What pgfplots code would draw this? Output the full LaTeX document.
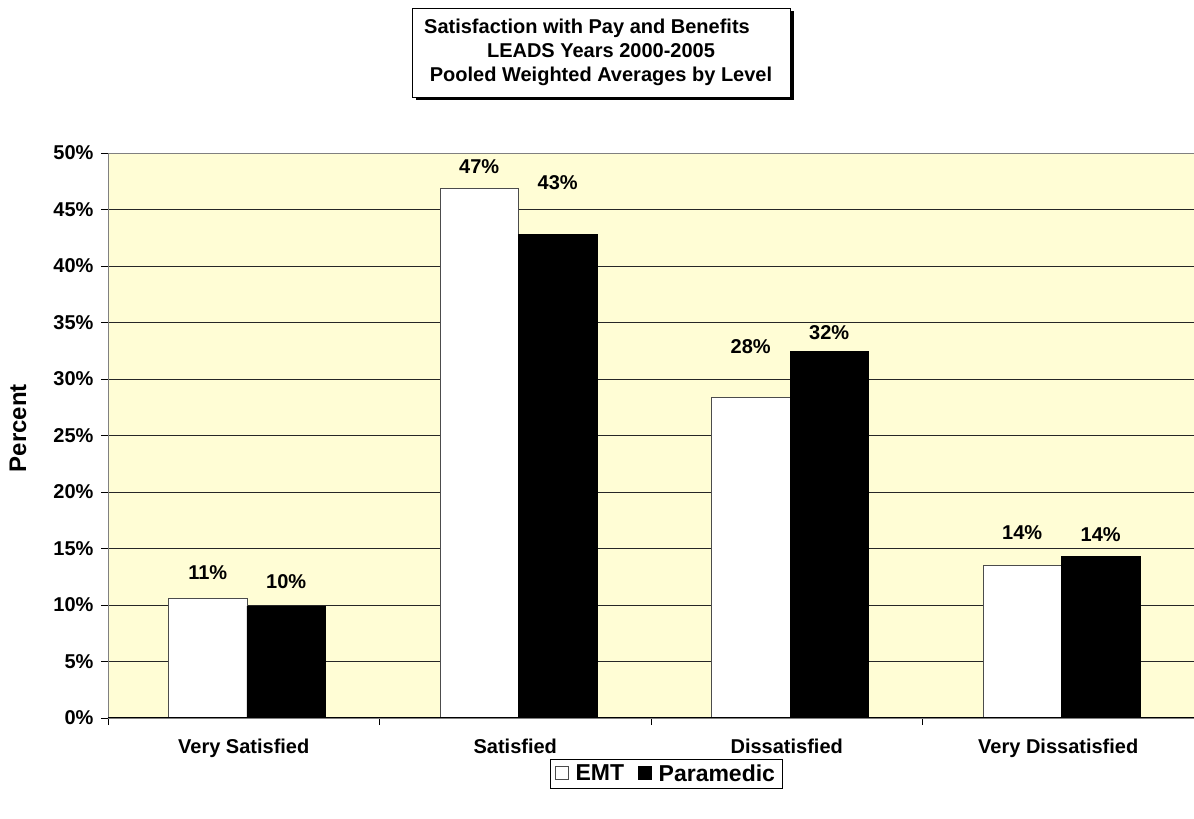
\documentclass[border=0pt]{standalone}
\usepackage{fontspec}
\setmainfont{Liberation Sans}
\usepackage{pgfplots}
\pgfplotsset{compat=1.18}
\usetikzlibrary{shadows}
\definecolor{bgyellow}{HTML}{FFFDD5}
\newcommand{\lbl}{\fontsize{20}{24}\selectfont\bfseries}
\begin{document}
\begin{tikzpicture}[x=1pt,y=1pt]
\useasboundingbox (-108,-101) rectangle (1086,718);
\begin{axis}[
  at={(0,0)}, anchor=south west,
  scale only axis, width=1086pt, height=565pt,
  xmin=-0.5, xmax=3.5, ymin=0, ymax=50,
  axis background/.style={fill=bgyellow},
  axis line style={draw=gray},
  tick pos=left,
  xtick={-0.5,0.5,1.5,2.5,3.5},
  xticklabels={},
  extra x ticks={0,1,2,3},
  extra x tick labels={Very Satisfied,Satisfied,Dissatisfied,Very Dissatisfied},
  extra x tick style={major tick length=0pt, xticklabel style={yshift=-17pt}},
  ytick={0,5,10,15,20,25,30,35,40,45,50},
  yticklabels={0\%,5\%,10\%,15\%,20\%,25\%,30\%,35\%,40\%,45\%,50\%},
  ymajorgrids,
  major grid style={black!85, line width=0.8pt},
  tick align=outside,
  major tick length=7pt,
  tick style={black, line width=0.8pt},
  ticklabel style={font=\lbl},
  yticklabel style={xshift=-4pt},
  ylabel={Percent},
  ylabel style={font=\fontsize{24}{28}\selectfont\bfseries, at={(axis description cs:-0.083,0.513)}, anchor=center},
  legend style={at={(0.5138,-0.072)}, anchor=north, legend columns=2, draw=black, line width=0.8pt,
    font=\fontsize{23}{27}\selectfont\bfseries, inner xsep=5pt, inner ysep=3.5pt,
    /tikz/every odd column/.append style={column sep=5pt},
    /tikz/every even column/.append style={column sep=12pt}},
  legend image code/.code={\draw[#1, line width=0.6pt] (0pt,-6pt) rectangle (13pt,7pt);},
]
\addplot[ybar, bar width=78.5pt, bar shift=-36pt, fill=white, draw=black!70, line width=0.8pt]
  coordinates {(0,10.6) (1,46.9) (2,28.4) (3,13.5)};
\addlegendentry{EMT}
\addplot[ybar, bar width=78.5pt, bar shift=42.5pt, fill=black, draw=black, line width=0.8pt]
  coordinates {(0,9.9) (1,42.8) (2,32.4) (3,14.3)};
\addlegendentry{Paramedic}
\addplot[forget plot, only marks, mark=none, point meta=explicit symbolic,
  nodes near coords={\pgfplotspointmeta\%},
  nodes near coords style={anchor=center, xshift=-36pt, font=\lbl, text=black}]
  table[meta=label] {
x y label
0 12.83 11
1 48.76 47
2 32.83 28
3 16.37 14
};
\addplot[forget plot, only marks, mark=none, point meta=explicit symbolic,
  nodes near coords={\pgfplotspointmeta\%},
  nodes near coords style={anchor=center, xshift=42.5pt, font=\lbl, text=black}]
  table[meta=label] {
x y label
0 12.04 10
1 47.35 43
2 34.07 32
3 16.19 14
};
\draw[black, line width=1.2pt] (rel axis cs:0,0) -- (rel axis cs:1,0);
\end{axis}
\node[draw=black, fill=white, line width=0.8pt, minimum width=378pt, minimum height=89pt,
  align=center, font=\lbl, inner sep=0pt,
  drop shadow={shadow xshift=3.5pt, shadow yshift=-3.5pt, fill=black, opacity=1}]
  at (493,665.5) {Satisfaction with Pay and Benefits\hspace*{28pt}\\LEADS Years 2000-2005\hspace*{10pt}\\Pooled Weighted Averages by Level};
\end{tikzpicture}
\end{document}
